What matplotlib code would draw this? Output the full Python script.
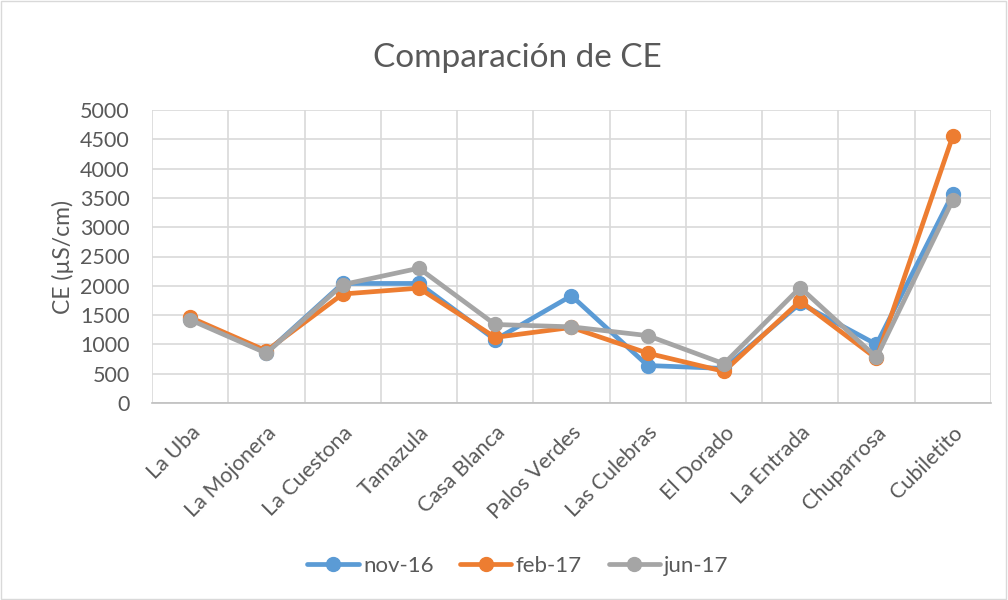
import numpy as np
import matplotlib.pyplot as plt
from matplotlib.patches import Rectangle

plt.rcParams['font.family'] = ['Lato', 'DejaVu Sans']

sites = ['La Uba', 'La Mojonera', 'La Cuestona', 'Tamazula', 'Casa Blanca',
         'Palos Verdes', 'Las Culebras', 'El Dorado', 'La Entrada',
         'Chuparrosa', 'Cubiletito']
nov16 = [1440, 860, 2040, 2040, 1080, 1830, 640, 590, 1700, 1000, 3570]
feb17 = [1460, 890, 1860, 1960, 1120, 1290, 850, 540, 1740, 760, 4550]
jun17 = [1420, 850, 2020, 2300, 1340, 1300, 1150, 670, 1970, 780, 3460]

series = [('nov-16', nov16, '#5B9BD5'),
          ('feb-17', feb17, '#ED7D31'),
          ('jun-17', jun17, '#A5A5A5')]

txt = '#595959'
fig = plt.figure(figsize=(10.08, 6), dpi=100)
ax = fig.add_axes([0.1508, 0.3283, 0.8322, 0.4884])

x = np.arange(len(sites))
for name, vals, col in series:
    ax.plot(x, vals, color=col, lw=3.4, marker='o', ms=10, label=name,
            solid_capstyle='round', zorder=3)

ax.set_xlim(-0.5, len(sites) - 0.5)
ax.set_ylim(0, 5000)
ax.set_yticks(np.arange(0, 5001, 500))
ax.set_xticks(x)
ax.set_xticklabels(sites, rotation=45, ha='right', rotation_mode='anchor',
                   fontsize=15.5, color=txt)
ax.set_xticks(np.arange(-0.5, len(sites)), minor=True)
ax.tick_params(axis='x', which='major', length=0, pad=14)
ax.tick_params(axis='x', which='minor', length=0)
ax.tick_params(axis='y', length=0, labelsize=15.5, labelcolor=txt, pad=16)
ax.grid(True, which='minor', axis='x', color='#d9d9d9', lw=1.2)
ax.grid(True, which='major', axis='y', color='#d9d9d9', lw=1.2)
for s in ['top', 'right', 'left']:
    ax.spines[s].set_visible(False)
ax.spines['bottom'].set_color('#bfbfbf')
ax.spines['bottom'].set_linewidth(1.2)
ax.set_axisbelow(True)

ax.set_ylabel('CE (µS/cm)', fontsize=16.5, color=txt, labelpad=4)
fig.text(0.5128, 0.903, 'Comparación de CE', ha='center', va='center',
         fontsize=24, color=txt)

leg = fig.legend(loc='center', bbox_to_anchor=(0.514, 0.057), ncol=3,
                 frameon=False, fontsize=16, handlelength=2.3,
                 columnspacing=1.2, handletextpad=0.2, labelcolor=txt)

fig.patches.append(Rectangle((0.001, 0.002), 0.997, 0.996, transform=fig.transFigure,
                             fill=False, edgecolor='#d9d9d9', lw=1))

fig.savefig('out.png', dpi=100)
